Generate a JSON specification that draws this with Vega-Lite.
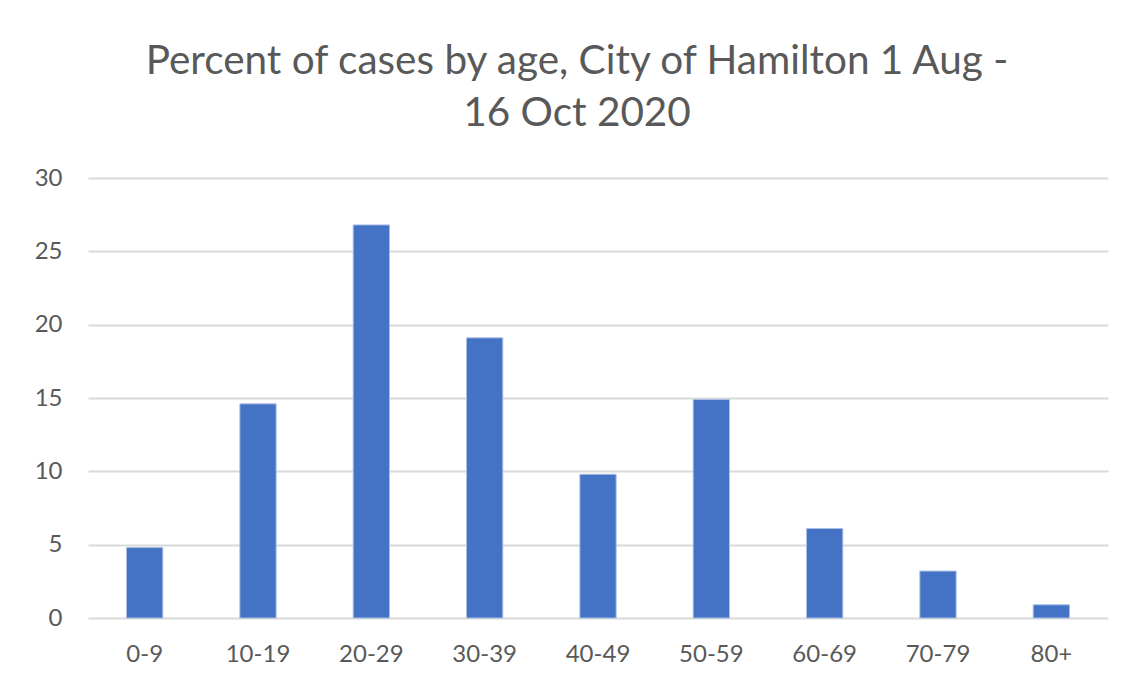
{
  "$schema": "https://vega.github.io/schema/vega-lite/v6.json",
  "width": 1020,
  "height": 440,
  "autosize": {"type": "none"},
  "padding": {"left": 88, "top": 178, "right": 22, "bottom": 73},
  "background": "white",
  "title": {
    "text": ["Percent of cases by age, City of Hamilton 1 Aug -", "16 Oct 2020"],
    "font": "Lato",
    "fontSize": 40.5,
    "fontWeight": "normal",
    "color": "#595959",
    "lineHeight": 52,
    "anchor": "middle",
    "frame": "group",
    "dx": -21,
    "offset": 32
  },
  "data": {
    "values": [
      {"age": "0-9", "percent": 4.8},
      {"age": "10-19", "percent": 14.6},
      {"age": "20-29", "percent": 26.8},
      {"age": "30-39", "percent": 19.1},
      {"age": "40-49", "percent": 9.8},
      {"age": "50-59", "percent": 14.9},
      {"age": "60-69", "percent": 6.1},
      {"age": "70-79", "percent": 3.2},
      {"age": "80+", "percent": 0.9}
    ]
  },
  "mark": {"type": "bar", "color": "#4472C4", "stroke": "#A9BEE6", "strokeWidth": 1},
  "encoding": {
    "x": {
      "field": "age",
      "type": "nominal",
      "sort": null,
      "title": null,
      "scale": {"paddingInner": 0.68, "paddingOuter": 0.34},
      "axis": {
        "labelAngle": 0,
        "ticks": false,
        "domain": false,
        "labelFont": "Lato",
        "labelFontSize": 24,
        "labelColor": "#595959",
        "labelPadding": 24
      }
    },
    "y": {
      "field": "percent",
      "type": "quantitative",
      "title": null,
      "scale": {"domain": [0, 30], "nice": false},
      "axis": {
        "values": [0, 5, 10, 15, 20, 25, 30],
        "ticks": false,
        "domain": false,
        "grid": true,
        "gridColor": "#D9D9D9",
        "gridWidth": 2,
        "labelFont": "Lato",
        "labelFontSize": 24,
        "labelColor": "#595959",
        "labelPadding": 26
      }
    }
  },
  "config": {
    "view": {"stroke": null}
  }
}
